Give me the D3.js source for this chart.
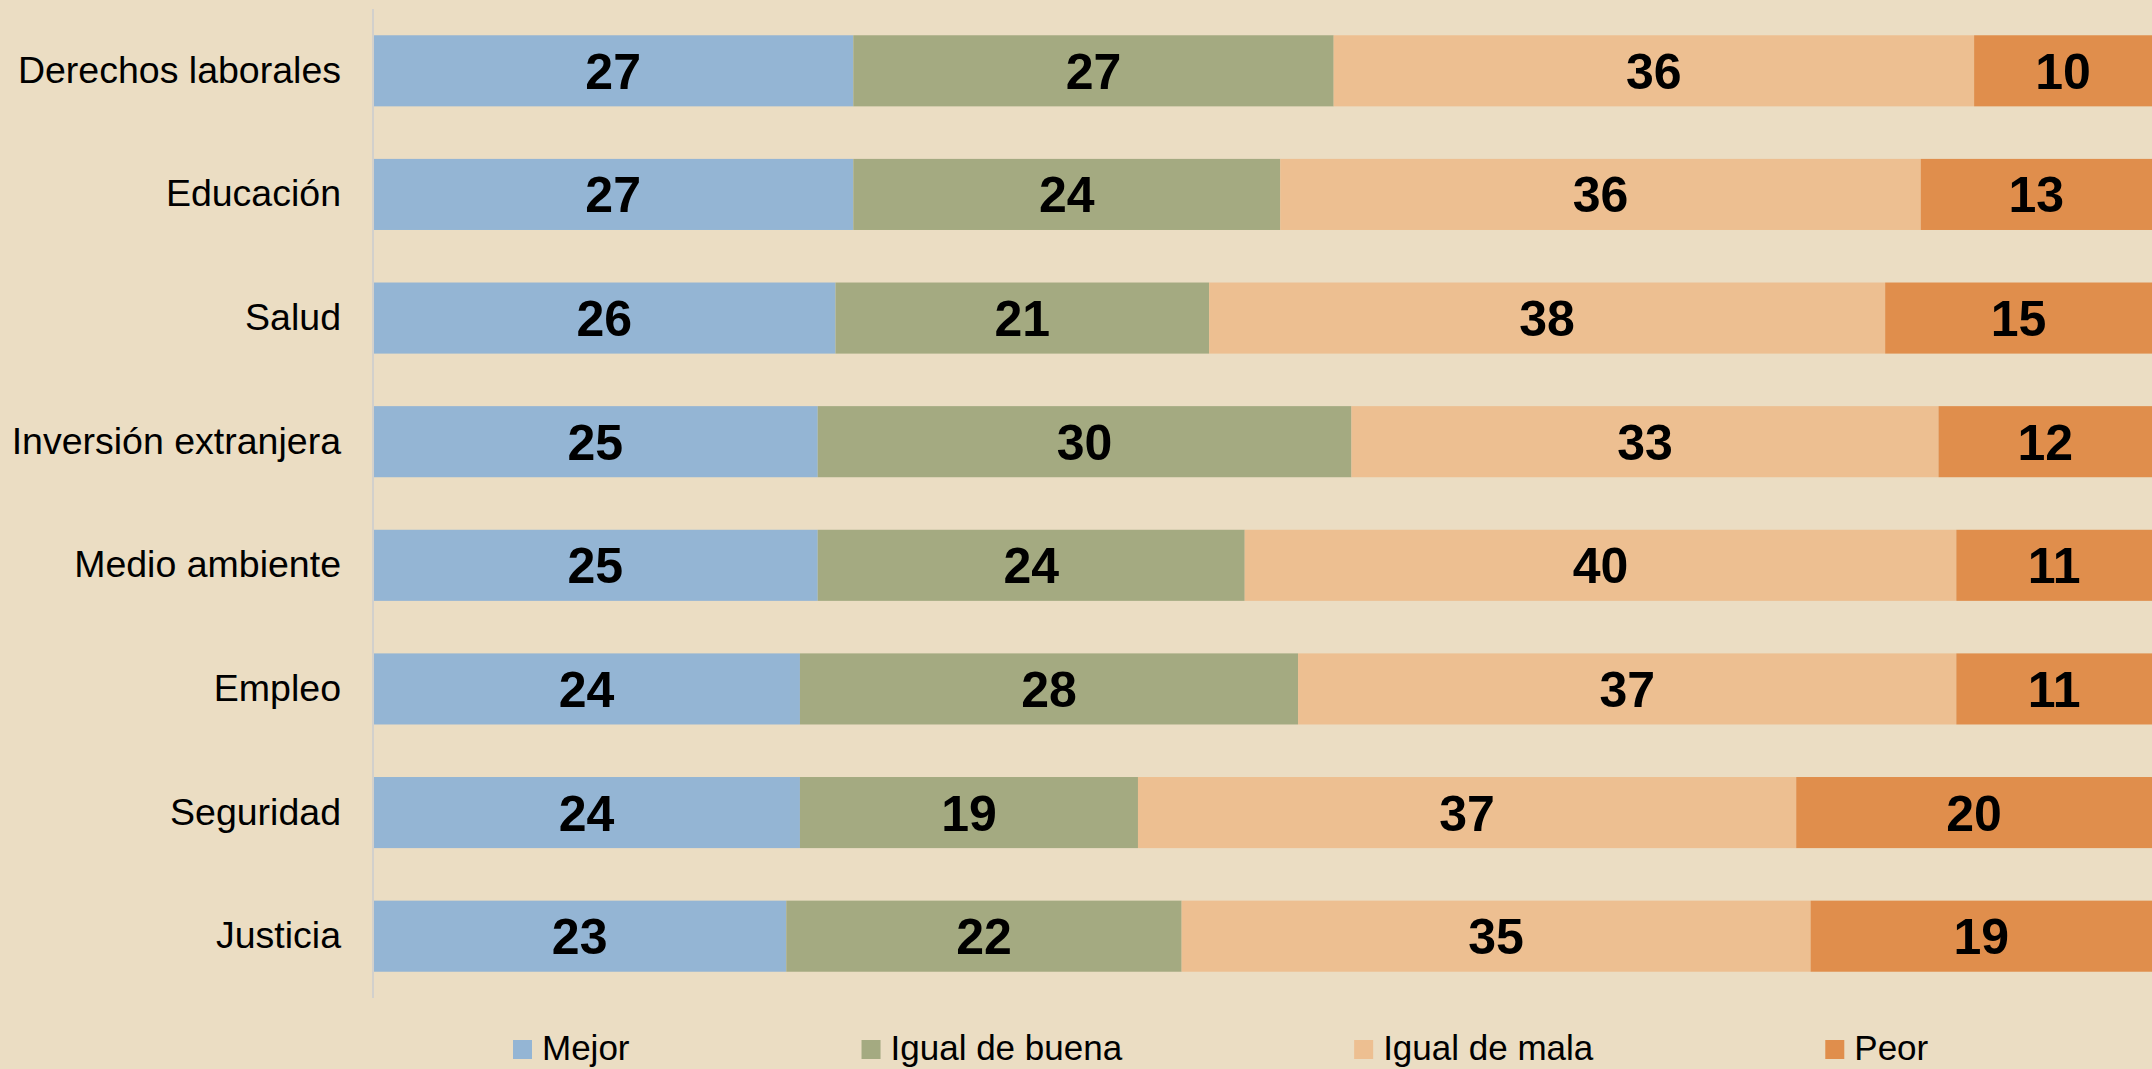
<!DOCTYPE html>
<html>
<head>
<meta charset="utf-8">
<script src="https://cdn.jsdelivr.net/npm/d3@7"></script>
<style>
  html, body { margin: 0; padding: 0; background: #EBDDC3; }
  svg { display: block; }
  text { font-family: "Liberation Sans", Arial, sans-serif; }
</style>
</head>
<body>
<svg id="chart" width="2152" height="1069"></svg>
<script>
// Categories (top to bottom)
const categories = [
  "Derechos laborales", "Educación", "Salud", "Inversión extranjera",
  "Medio ambiente", "Empleo", "Seguridad", "Justicia"
];
// Series names and values (%)
const seriesNames = ["Mejor", "Igual de buena", "Igual de mala", "Peor"];
const mejor        = [27, 27, 26, 25, 25, 24, 24, 23];
const igualBuena   = [27, 24, 21, 30, 24, 28, 19, 22];
const igualMala    = [36, 36, 38, 33, 40, 37, 37, 35];
const peor         = [10, 13, 15, 12, 11, 11, 20, 19];
const seriesValues = [mejor, igualBuena, igualMala, peor];
const colors = ["#94B5D4", "#A4AA81", "#EDBF91", "#E08E4C"];

const W = 2152, H = 1069;
const svg = d3.select("#chart");
svg.append("rect").attr("width", W).attr("height", H).attr("fill", "#EBDDC3");

const margin = { left: 373, right: 0, top: 9, bottom: 71 };

// Build rows for a 100% stacked layout
const rows = categories.map((c, i) => {
  const r = { category: c };
  seriesNames.forEach((s, k) => r[s] = seriesValues[k][i]);
  return r;
});
const stack = d3.stack().keys(seriesNames).offset(d3.stackOffsetExpand);
const stacked = stack(rows);

const x = d3.scaleLinear().domain([0, 1]).range([margin.left, W - margin.right]);
const y = d3.scaleBand().domain(categories)
  .range([margin.top, H - margin.bottom])
  .paddingInner(0.425).paddingOuter(0.2125);

// Bars
const layers = svg.append("g").selectAll("g").data(stacked).join("g")
  .attr("fill", (d, i) => colors[i]);

layers.selectAll("rect").data(d => d.map(p => ({ p, key: d.key }))).join("rect")
  .attr("x", d => x(d.p[0]))
  .attr("y", d => y(d.p.data.category))
  .attr("width", d => x(d.p[1]) - x(d.p[0]))
  .attr("height", y.bandwidth());

// Value labels centered in each segment
layers.selectAll("text").data(d => d.map(p => ({ p, key: d.key }))).join("text")
  .attr("x", d => (x(d.p[0]) + x(d.p[1])) / 2)
  .attr("y", d => y(d.p.data.category) + y.bandwidth() / 2)
  .attr("dy", "0.36em")
  .attr("text-anchor", "middle")
  .attr("font-size", 50)
  .attr("font-weight", "bold")
  .attr("fill", "#000")
  .text(d => d.p.data[d.key]);

// Category axis
const yAxis = d3.axisLeft(y).tickSize(0).tickPadding(32);
const gAxis = svg.append("g").attr("transform", `translate(${margin.left},0)`).call(yAxis);
gAxis.select(".domain").attr("stroke", "#D2D0CC").attr("stroke-width", 2)
  .attr("d", `M0,${margin.top}V${H - margin.bottom}`);
gAxis.selectAll(".tick text")
  .attr("font-size", 37.5)
  .attr("fill", "#000")
  .style("font-family", "'Liberation Sans', Arial, sans-serif");

// Legend along the bottom edge
const legend = svg.append("g").attr("transform", "translate(513,1047)");
let lx = 0;
seriesNames.forEach((name, i) => {
  const g = legend.append("g").attr("transform", `translate(${lx},0)`);
  g.append("rect").attr("x", 0).attr("y", -7).attr("width", 19).attr("height", 19)
    .attr("fill", colors[i]);
  const t = g.append("text").attr("x", 29).attr("y", 0).attr("dy", "0.36em")
    .attr("font-size", 35).attr("fill", "#000").text(name);
  lx += 29 + t.node().getComputedTextLength() + 232;
});
</script>
</body>
</html>
